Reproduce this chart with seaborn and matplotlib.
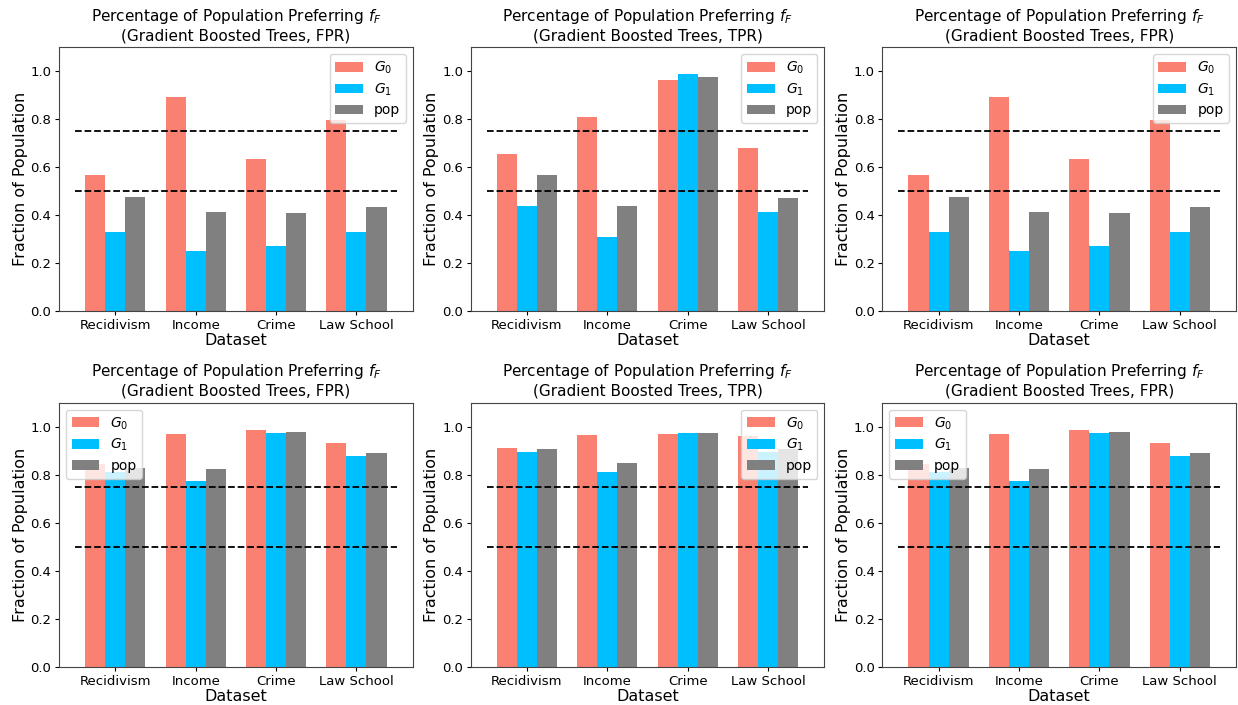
import matplotlib
matplotlib.use("Agg")
import matplotlib.pyplot as plt
import seaborn as sns
import pandas as pd

datasets = ["Recidivism", "Income", "Crime", "Law School"]
groups = ["$G_0$", "$G_1$", "pop"]
colors = ["#FA8072", "#00BFFF", "#808080"]

# top row
fpr_top_g0 = [0.568, 0.890, 0.633, 0.795]
fpr_top_g1 = [0.331, 0.251, 0.272, 0.331]
fpr_top_pop = [0.475, 0.415, 0.409, 0.433]

tpr_top_g0 = [0.655, 0.810, 0.963, 0.681]
tpr_top_g1 = [0.439, 0.310, 0.988, 0.412]
tpr_top_pop = [0.569, 0.439, 0.976, 0.471]

# bottom row
fpr_bot_g0 = [0.846, 0.971, 0.984, 0.930]
fpr_bot_g1 = [0.810, 0.773, 0.975, 0.878]
fpr_bot_pop = [0.827, 0.824, 0.978, 0.889]

tpr_bot_g0 = [0.912, 0.966, 0.971, 0.960]
tpr_bot_g1 = [0.894, 0.811, 0.975, 0.893]
tpr_bot_pop = [0.907, 0.850, 0.975, 0.909]

panels = [
    ("FPR", fpr_top_g0, fpr_top_g1, fpr_top_pop, "upper right"),
    ("TPR", tpr_top_g0, tpr_top_g1, tpr_top_pop, "upper right"),
    ("FPR", fpr_top_g0, fpr_top_g1, fpr_top_pop, "upper right"),
    ("FPR", fpr_bot_g0, fpr_bot_g1, fpr_bot_pop, "upper left"),
    ("TPR", tpr_bot_g0, tpr_bot_g1, tpr_bot_pop, "upper right"),
    ("FPR", fpr_bot_g0, fpr_bot_g1, fpr_bot_pop, "upper left"),
]

fig, axes = plt.subplots(2, 3, figsize=(12.38, 7.05), dpi=100)
fig.subplots_adjust(left=0.0477, right=0.9984, bottom=0.0539, top=0.9333,
                    wspace=0.164, hspace=0.345)

for ax, (metric, g0, g1, pop, loc) in zip(axes.flat, panels):
    rows = []
    for vals, g in zip([g0, g1, pop], groups):
        for d, v in zip(datasets, vals):
            rows.append({"Dataset": d, "group": g, "value": v})
    df = pd.DataFrame(rows)
    sns.barplot(data=df, x="Dataset", y="value", hue="group", order=datasets,
                hue_order=groups, palette=colors, saturation=1, width=0.75,
                linewidth=0, ax=ax, errorbar=None)
    ax.hlines([0.5, 0.75], -0.5, 3.5, colors="black", linestyles="--", linewidth=1.3)
    ax.set_xlim(-0.7, 3.7)
    ax.set_ylim(0, 1.1)
    ax.set_title("Percentage of Population Preferring $f_F$\n(Gradient Boosted Trees, %s)" % metric,
                 fontsize=11, pad=5)
    ax.set_xlabel("Dataset", fontsize=11.5, labelpad=1)
    ax.set_ylabel("Fraction of Population", fontsize=11.5, labelpad=2)
    ax.tick_params(labelsize=9.5, length=3, pad=2.5)
    for s in ax.spines.values():
        s.set_edgecolor("#444444")
    ax.legend(loc=loc, fontsize=10, labelspacing=0.4)

fig.savefig("out.png", dpi=100)
